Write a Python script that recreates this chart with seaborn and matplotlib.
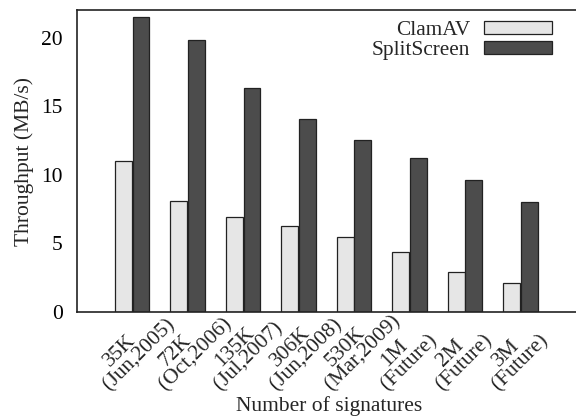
import matplotlib
matplotlib.use("Agg")
import matplotlib.pyplot as plt
import matplotlib.transforms as mtransforms
import seaborn as sns
import pandas as pd

counts = ["35K", "72K", "135K", "306K", "530K", "1M", "2M", "3M"]
dates = ["(Jun,2005)", "(Oct,2006)", "(Jul,2007)", "(Jun,2008)",
         "(Mar,2009)", "(Future)", "(Future)", "(Future)"]
clamav = [11.0, 8.1, 6.9, 6.3, 5.5, 4.4, 2.9, 2.1]
splitscreen = [21.5, 19.8, 16.3, 14.1, 12.5, 11.2, 9.6, 8.05]
series = ["ClamAV", "SplitScreen"]
colors = ["#e6e6e6", "#4c4c4c"]

df = pd.DataFrame({
    "cat": counts * 2,
    "val": clamav + splitscreen,
    "series": [series[0]] * len(counts) + [series[1]] * len(counts),
})

sns.set_theme(style="white")
plt.rcParams["font.family"] = ["Liberation Serif", "DejaVu Serif"]

fig = plt.figure(figsize=(5.76, 4.19), dpi=100)
ax = fig.add_axes([0.133, 0.2554, 0.867, 0.7205])

sns.barplot(data=df, x="cat", y="val", hue="series", palette=colors,
            width=0.64, gap=0.05, edgecolor="#222222", linewidth=0.9, ax=ax)

ax.set_xlim(-1, 8)
ax.set_ylim(0, 22)
ax.set_yticks([0, 5, 10, 15, 20])
ax.tick_params(axis="y", length=0, labelsize=15.5, pad=10, colors="black")
ax.tick_params(axis="x", direction="in", length=4, width=2, color="black")
ax.set_xticks(range(len(counts)))
ax.set_xticklabels([""] * len(counts))

# two-line rotated category labels (second line set directly below the first)
xtrans = ax.get_xaxis_transform()
for i, (c, d) in enumerate(zip(counts, dates)):
    for txt, dy in ((c, -55), (d, -79)):
        off = mtransforms.ScaledTranslation(-22 / 100, dy / 100, fig.dpi_scale_trans)
        ax.text(i, 0, txt, transform=xtrans + off, rotation=45,
                rotation_mode="anchor", ha="left", va="baseline", fontsize=15.5)

for side in ["left", "top", "bottom"]:
    ax.spines[side].set_color("#222222")
    ax.spines[side].set_linewidth(1.2)
ax.spines["right"].set_visible(False)

ax.set_ylabel("Throughput (MB/s)", fontsize=15.5, labelpad=5)
ax.set_xlabel("Number of signatures", fontsize=15.5)
ax.xaxis.set_label_coords(0.505, -0.28)

leg = ax.legend(loc="upper right", markerfirst=False, frameon=False, fontsize=15.3,
                handlelength=3.2, handleheight=0.55, labelspacing=0.05,
                handletextpad=0.65, borderaxespad=0.2, bbox_to_anchor=(0.978, 1.005))

fig.savefig("out.png", dpi=100)
